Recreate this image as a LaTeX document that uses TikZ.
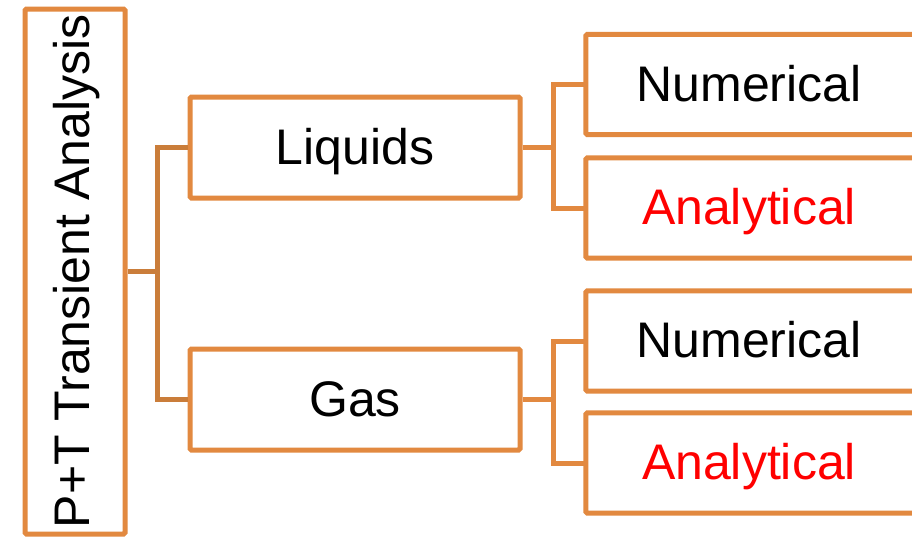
\documentclass[tikz,border=0pt]{standalone}
\usepackage{fontspec}
\setmainfont{Liberation Sans}
\begin{document}
\begin{tikzpicture}[x=1pt,y=-1pt,
  boxc/.style={draw=boxorange,line width=5pt,rounded corners=1.5pt,inner sep=0pt,
    font=\fontsize{50}{60}\selectfont,text height=36pt,text depth=3pt},
  openbox/.style={inner sep=0pt,font=\fontsize{50}{60}\selectfont,text height=36pt,text depth=3pt,
    minimum width=326pt,minimum height=100pt},
  edge/.style={draw=boxorange,line width=5pt,rounded corners=1.5pt},
  conn/.style={draw=boxorange,line width=5pt},
  connd/.style={draw=connorange,line width=5pt}]
\definecolor{boxorange}{RGB}{226,137,64}
\definecolor{connorange}{RGB}{202,125,58}
\clip (0,0) rectangle (912,536);
\fill[white] (0,0) rectangle (912,536);
% root
\node[boxc,rotate=90,text height=36pt,text depth=7pt,
      minimum width=525pt,minimum height=100pt] (root) at (75,271.5) {P+T Transient Analysis};
% second level
\node[boxc,minimum width=330pt,minimum height=101pt] (liq) at (355,147.5) {Liquids};
\node[boxc,minimum width=330pt,minimum height=101pt] (gas) at (355,399.5) {Gas};
% leaves (open to the right)
\node[openbox] (num1) at (749,84.5) {Numerical};
\node[openbox,text=red] (ana1) at (749,208) {Analytical};
\node[openbox] (num2) at (749,341) {Numerical};
\node[openbox,text=red] (ana2) at (749,463) {Analytical};
\foreach \n in {num1,ana1,num2,ana2}{
  \draw[edge] ([xshift=40pt]\n.north east) -- (\n.north west) -- (\n.south west) -- ([xshift=40pt]\n.south east);
}
% connectors
\coordinate (j0) at (157,271.5);
\coordinate (j1) at (553,147.5);
\coordinate (j2) at (553,399.5);
\draw[connd] (root.south) -- (j0);
\draw[connd] (liq.west) -| (j0) |- (gas.west);
\draw[conn] (liq.east) -- (j1);
\draw[conn] (num1.west) -| (j1) |- (ana1.west);
\draw[conn] (gas.east) -- (j2);
\draw[conn] (num2.west) -| (j2) |- (ana2.west);
\end{tikzpicture}
\end{document}
